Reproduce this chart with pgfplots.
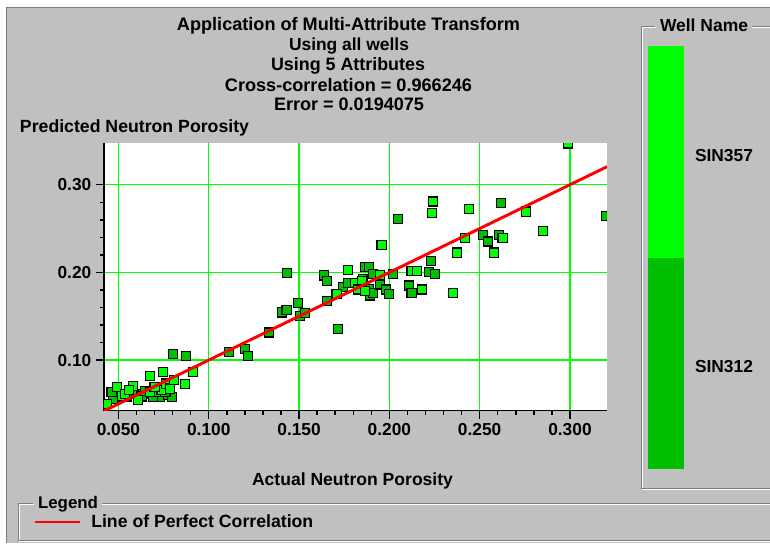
\documentclass[border=0pt]{standalone}
\usepackage{pgfplots}
\pgfplotsset{compat=1.18}
\usepackage{pgfplotstable}
\usepackage{graphicx}
\usepackage{fontspec}
\setmainfont{Liberation Sans}

\definecolor{panelgray}{HTML}{C0C0C0}
\definecolor{gridgreen}{HTML}{00FF00}
\definecolor{wellA}{HTML}{00FF00}% SIN357
\definecolor{wellB}{HTML}{00BF00}% SIN312
\definecolor{etch}{HTML}{7A7A8A}

% bold label stretched to a given width
\newcommand\fitw[2]{\resizebox{#1}{!}{\bfseries #2}}

% SIN312: actual vs predicted neutron porosity
\pgfplotstableread{
x y
0.0481 0.0617
0.0508 0.0578
0.0573 0.0617
0.0637 0.0617
0.0702 0.0598
0.0730 0.0578
0.0776 0.0598
0.0795 0.0578
0.0471 0.0560
0.0462 0.0636
0.0545 0.0586
0.0628 0.0586
0.0647 0.0647
0.0693 0.0578
0.0712 0.0636
0.0760 0.0640
0.0803 0.1066
0.0874 0.1046
0.1114 0.1095
0.1200 0.1130
0.1219 0.1050
0.1335 0.1314
0.1404 0.1544
0.1431 0.1575
0.1435 0.1996
0.1496 0.1652
0.1505 0.1506
0.1533 0.1537
0.1640 0.1966
0.1655 0.1900
0.1653 0.1670
0.1717 0.1356
0.1745 0.1831
0.1773 0.1880
0.1855 0.1928
0.1865 0.2061
0.1889 0.2061
0.1889 0.1813
0.1893 0.1736
0.1911 0.1767
0.1911 0.1985
0.1948 0.1862
0.1981 0.1805
0.1999 0.1755
0.2022 0.1985
0.2046 0.2610
0.2108 0.1850
0.2123 0.1767
0.2221 0.2003
0.2254 0.1985
0.2229 0.2130
0.2517 0.2425
0.2548 0.2353
0.2609 0.2425
0.2618 0.2790
0.3198 0.2640
}\sinB

% SIN357: actual vs predicted neutron porosity
\pgfplotstableread{
x y
0.0438 0.0502
0.0493 0.0693
0.0518 0.0586
0.0536 0.0617
0.0579 0.0705
0.0610 0.0548
0.0674 0.0820
0.0674 0.0636
0.0739 0.0663
0.0748 0.0866
0.0763 0.0732
0.0785 0.0675
0.0807 0.0770
0.0868 0.0724
0.0914 0.0866
0.0560 0.0660
0.0700 0.0690
0.1708 0.1755
0.1769 0.2027
0.1809 0.1882
0.1847 0.1900
0.1828 0.1805
0.1865 0.1785
0.1948 0.1969
0.1957 0.2310
0.2123 0.2015
0.2155 0.2015
0.2179 0.1805
0.2238 0.2675
0.2243 0.2808
0.2354 0.1767
0.2373 0.2226
0.2419 0.2390
0.2442 0.2724
0.2579 0.2226
0.2627 0.2390
0.2755 0.2693
0.2849 0.2475
0.2990 0.3470
}\sinA

\begin{document}
\begin{tikzpicture}[x=0.75pt, y=0.75pt]
\useasboundingbox (0,0) rectangle (770,543);
\fill[white] (0,0) rectangle (770,543);
\fill[panelgray] (6,0) rectangle (770,536);
\draw[etch, line width=0.6pt] (6,0) -- (6,536) -- (770,536);

% well name group box
\draw[white, line width=0.6pt] (656,516) -- (642,516) -- (642,54) -- (770,54);
\draw[white, line width=0.6pt] (752,516) -- (770,516);
\draw[etch, line width=0.6pt] (655,517) -- (641,517) -- (641,55) -- (770,55);
\draw[etch, line width=0.6pt] (752,517) -- (770,517);
% legend group box
\draw[white, line width=0.6pt] (34,39) -- (19,39) -- (19,2) -- (770,2);
\draw[white, line width=0.6pt] (102,39) -- (770,39);
\draw[etch, line width=0.6pt] (33,40) -- (18,40) -- (18,3) -- (770,3);
\draw[etch, line width=0.6pt] (102,40) -- (770,40);

\begin{axis}[
  at={(78pt,99.375pt)}, anchor=south west,
  scale only axis, width=377.25pt, height=200.25pt,
  xmin=0.042, xmax=0.3205, ymin=0.0425, ymax=0.347,
  axis x line*=bottom, axis y line*=left,
  axis line style={black, line width=1.1pt},
  axis background/.style={fill=white},
  xtick={0.05,0.1,0.15,0.2,0.25,0.3},
  ytick={0.1,0.2,0.3},
  minor x tick num=4, minor y tick num=4,
  tick align=outside,
  major tick length=6pt, minor tick length=3pt,
  every tick/.style={black, line width=1.1pt},
  grid=major,
  major grid style={gridgreen, line width=1.1pt},
  x tick label style={/pgf/number format/.cd, fixed, fixed zerofill, precision=3, assume math mode=true, /tikz/.cd},
  y tick label style={/pgf/number format/.cd, fixed, fixed zerofill, precision=2, assume math mode=true, /tikz/.cd},
  tick label style={font=\fontsize{13}{13}\selectfont\bfseries},
  clip marker paths=true,
]
\addplot[only marks, mark=square*, mark size=3.4pt,
  mark options={fill=wellB, draw=black, line width=0.9pt}] table {\sinB};
\addplot[only marks, mark=square*, mark size=3.4pt,
  mark options={fill=wellA, draw=black, line width=0.9pt}] table {\sinA};
% line of perfect correlation
\addplot[red, line width=2.2pt, no marks] coordinates {(0.042,0.042) (0.3205,0.3205)};
\end{axis}

% titles and axis labels
\node[anchor=mid, inner sep=0pt] at (348.5,516) {\fitw{257.25pt}{Application of Multi-Attribute Transform}};
\node[anchor=mid, inner sep=0pt] at (349,496) {\fitw{90pt}{Using all wells}};
\node[anchor=mid, inner sep=0pt] at (348,476) {\fitw{115.5pt}{Using 5 Attributes}};
\node[anchor=mid, inner sep=0pt] at (348.5,455) {\fitw{185.25pt}{Cross-correlation = 0.966246}};
\node[anchor=mid, inner sep=0pt] at (349,436) {\fitw{112.5pt}{Error = 0.0194075}};
\node[anchor=mid, inner sep=0pt] at (134.5,414) {\fitw{171.75pt}{Predicted Neutron Porosity}};
\node[anchor=mid, inner sep=0pt] at (352.5,61) {\fitw{150.75pt}{Actual Neutron Porosity}};

% well colour key
\fill[wellA] (648,285) rectangle (684,497);
\fill[wellB] (648,74) rectangle (684,285);
\node[anchor=mid, inner sep=0pt] at (704,515) {\fitw{66pt}{Well Name}};
\node[anchor=mid, inner sep=0pt] at (724,385) {\fitw{43.5pt}{SIN357}};
\node[anchor=mid, inner sep=0pt] at (724,174) {\fitw{43.5pt}{SIN312}};

% legend
\node[anchor=mid, inner sep=0pt] at (68,38) {\fitw{45pt}{Legend}};
\draw[red, line width=2.2pt] (35,21) -- (80,21);
\node[anchor=mid west, inner sep=0pt] at (91,19) {\fitw{166.5pt}{Line of Perfect Correlation}};
\end{tikzpicture}
\end{document}
